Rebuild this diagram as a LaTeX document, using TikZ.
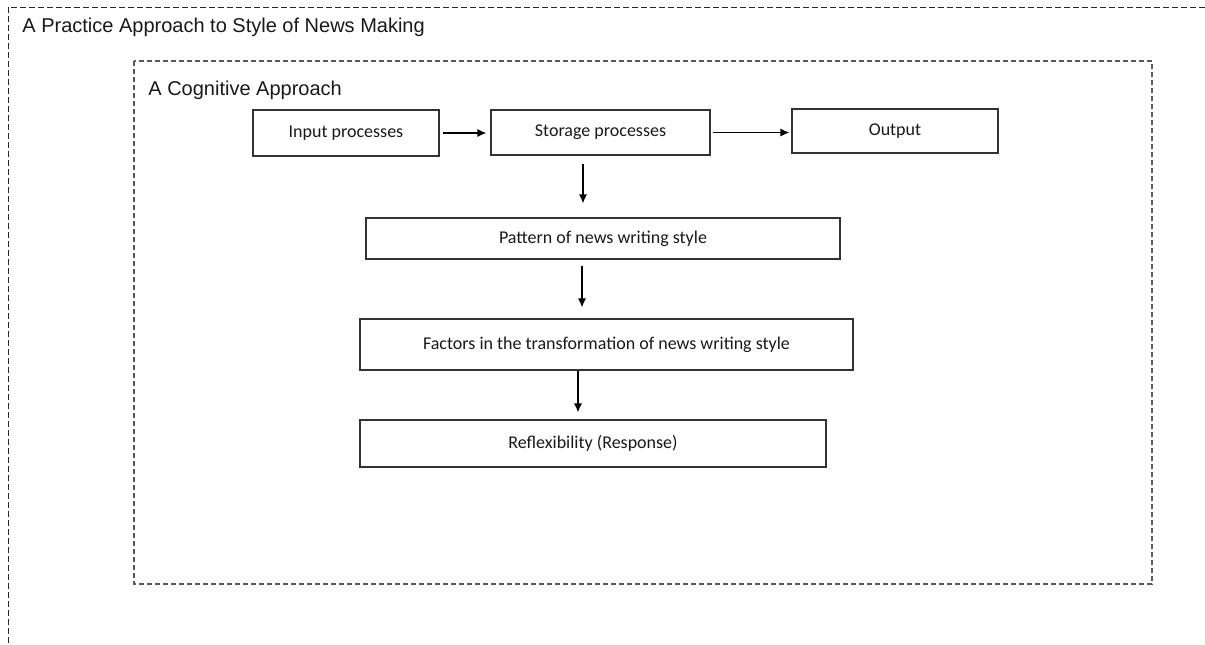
\documentclass[tikz,border=0pt]{standalone}
\usepackage{fontspec}
\setmainfont{Liberation Sans}
\newfontfamily\boxfont{Carlito}
\usetikzlibrary{arrows.meta}

\begin{document}
\begin{tikzpicture}[x=0.5pt,y=-0.5pt,>={Latex[length=4.5pt,width=4pt]},
    procbox/.style={draw=black!80, line width=0.6pt, font=\boxfont\fontsize{9}{11}\selectfont,
                    text=black!90, inner sep=0pt, align=center},
    flow/.style={->, line width=0.6pt},
    frametitle/.style={anchor=base west, inner sep=0pt, font=\fontsize{10}{12}\selectfont, text=black!90}]
  \useasboundingbox (0,0) rectangle (1205,644);

  % outer and inner frames
  \draw[black!85, line width=0.5pt, dash pattern=on 3pt off 1.5pt] (1205,7) -- (8,7) -- (8,644);
  \draw[black!65, line width=0.75pt, dash pattern=on 2.5pt off 1.5pt] (134,61) rectangle (1152,584);
  \node[frametitle] (practice)  at (22,32) {A Practice Approach to Style of News Making};
  \node[frametitle] (cognitive) at (148,95) {A Cognitive Approach};

  % boxes
  \node[procbox, minimum width=93pt,    minimum height=23pt]   (inp)  at (346,133)   {Input processes};
  \node[procbox, minimum width=109.5pt, minimum height=22.5pt] (stor) at (600.5,132.5) {Storage processes};
  \node[procbox, minimum width=103pt,   minimum height=22pt]   (outp) at (895,131)   {Output};
  \node[procbox, minimum width=237pt,   minimum height=20.5pt] (patt) at (603,238.5) {Pattern of news writing style};
  \node[procbox, minimum width=246.5pt, minimum height=25.5pt] (fact) at (606.5,344.5) {Factors in the transformation of news writing style};
  \node[procbox, minimum width=233pt,   minimum height=23.5pt] (refl) at (593,443.5) {Reflexibility (Response)};

  % arrows
  \draw[flow, shorten <=1.5pt, shorten >=2pt] (inp.east) -- (inp.east -| stor.west);
  \draw[flow, shorten <=1pt, shorten >=1pt] (stor.east) -- (stor.east -| outp.west);
  \draw[flow, shorten <=4pt, shorten >=7pt] (stor.south -| 583,0) -- (patt.north -| 583,0);
  \draw[flow, shorten <=3pt, shorten >=5.5pt] (patt.south -| 582,0) -- (fact.north -| 582,0);
  \draw[flow, shorten >=3.5pt] (fact.south -| 578,0) -- (refl.north -| 578,0);
\end{tikzpicture}
\end{document}
